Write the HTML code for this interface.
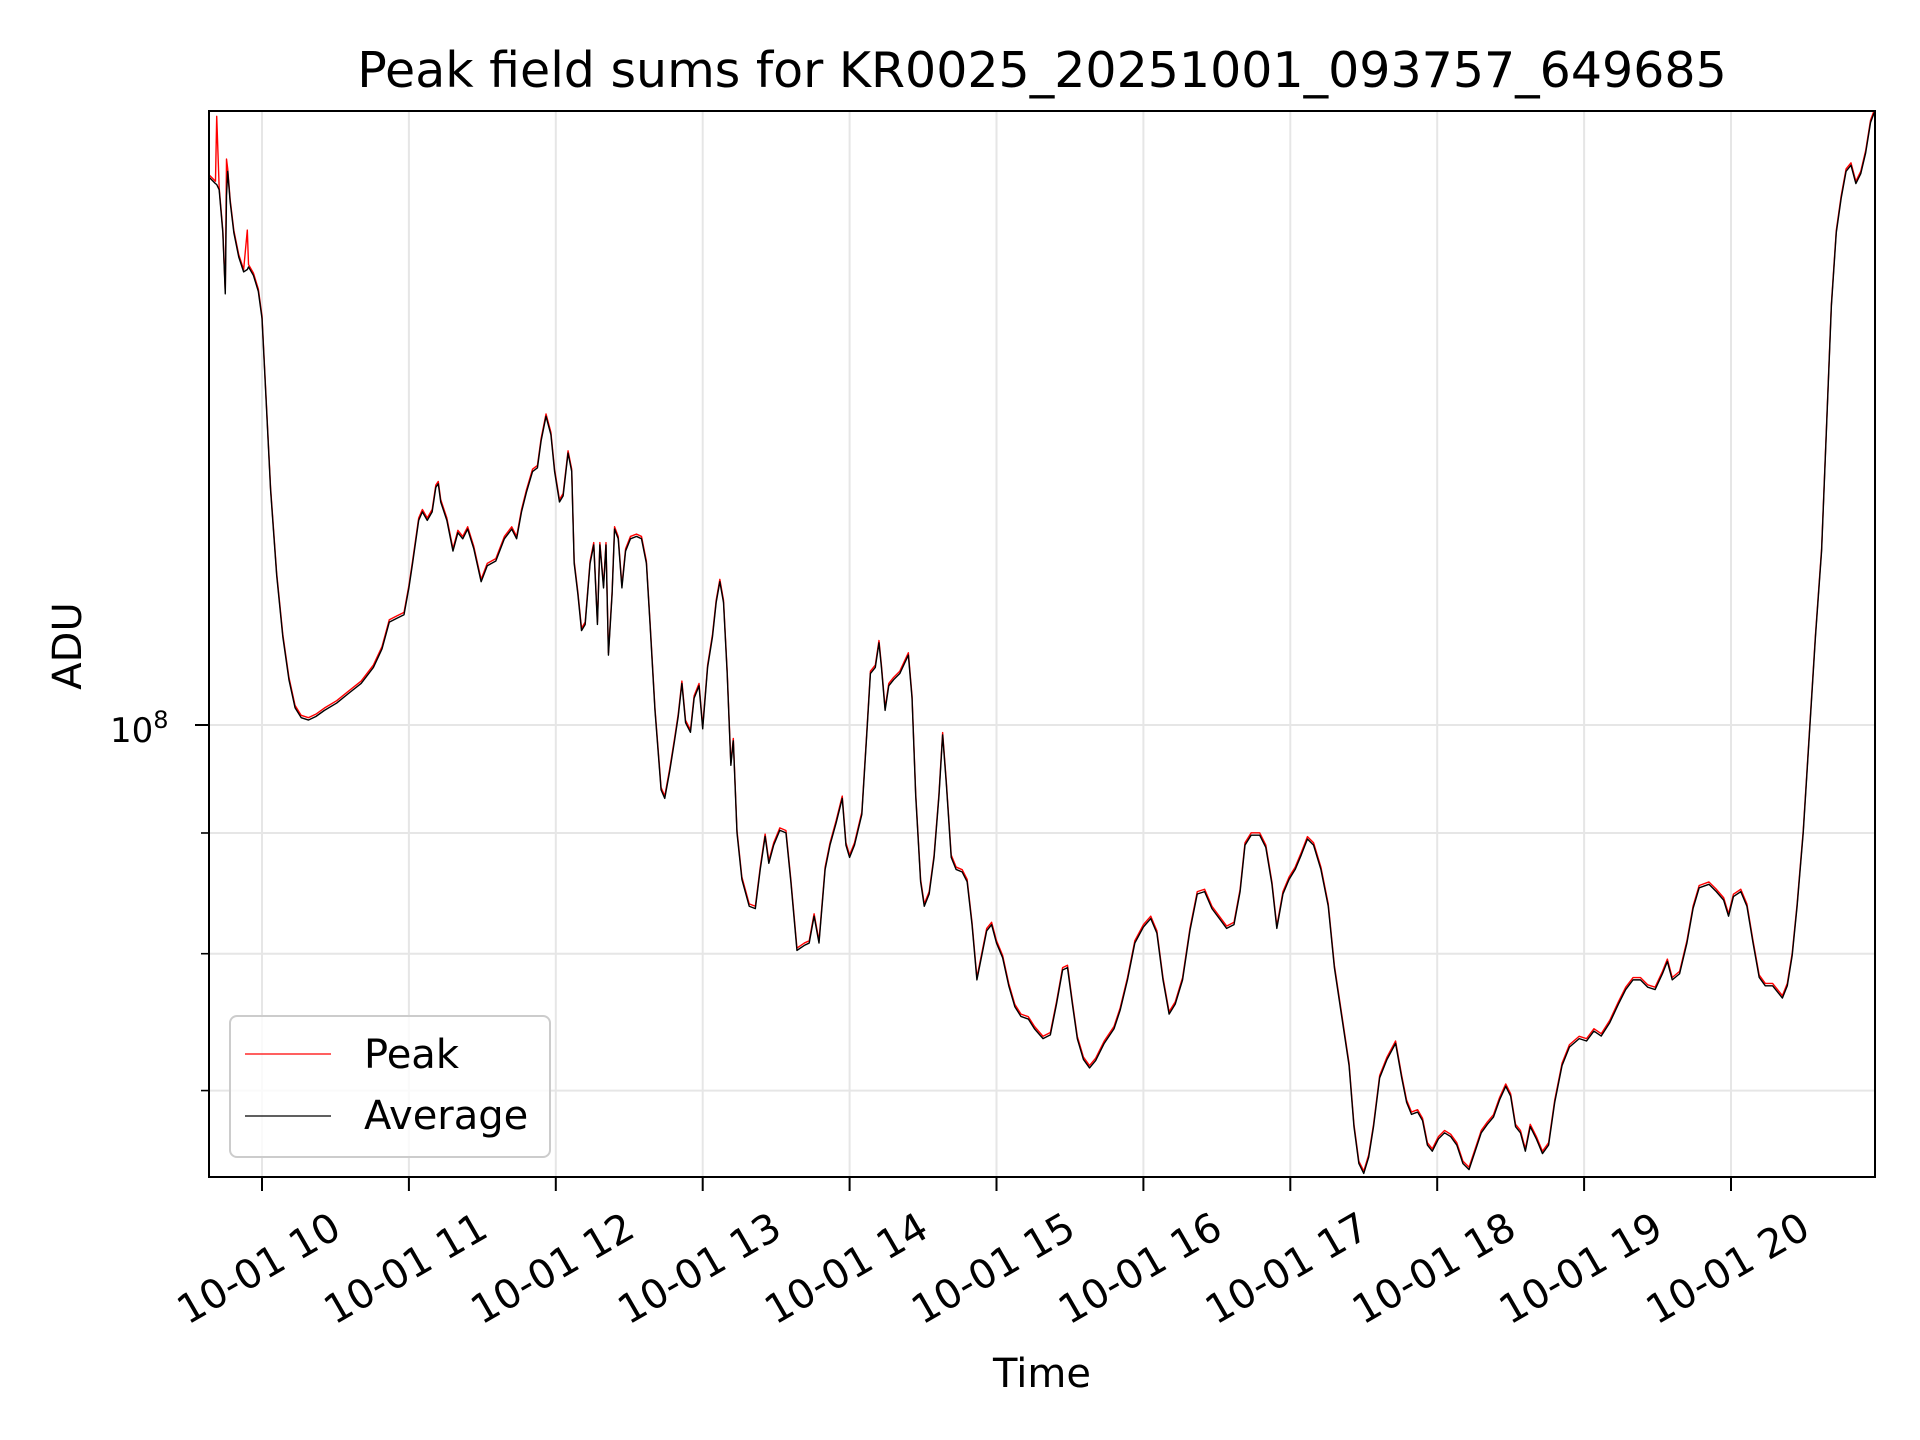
<!DOCTYPE html>
<html><head><meta charset="utf-8"><style>
html,body{margin:0;padding:0;background:#fff;}
svg{display:block;font-family:"DejaVu Sans","Liberation Sans",sans-serif;}
</style></head><body>
<svg id="chart" width="1920" height="1440" viewBox="0 0 1920 1440" xmlns="http://www.w3.org/2000/svg">
<rect width="1920" height="1440" fill="#fff"/>
<g id="grid"></g>
<g id="series"></g>
<rect x="209" y="111" width="1666" height="1066" fill="none" stroke="#000" stroke-width="2"/>
<g id="ticks"></g>
<text x="1042" y="87" font-size="49" text-anchor="middle">Peak field sums for KR0025_20251001_093757_649685</text>
<text x="1042" y="1387" font-size="40" text-anchor="middle">Time</text>
<text x="0" y="0" font-size="40" text-anchor="middle" transform="translate(81,646) rotate(-90)">ADU</text>
<g>
<rect x="230" y="1016" width="320" height="141" rx="7" fill="#fff" fill-opacity="0.8" stroke="#cccccc" stroke-width="2"/>
<line x1="245" y1="1054" x2="331" y2="1054" stroke="#ff0000" stroke-width="1.3"/>
<text x="364" y="1068" font-size="40">Peak</text>
<line x1="245" y1="1116" x2="331" y2="1116" stroke="#000" stroke-width="1.3"/>
<text x="364" y="1129" font-size="40">Average</text>
</g>
</svg>
<script>
// time in minutes since midnight (2025-10-01), values as log10(ADU)
const times = [578.5,581,581.5,582.5,584,585,585.5,586,587,588.5,590.5,592.5,594,594.5,596.5,598.5,600,601.5,603.5,606,608.5,611,613.5,616,619,622,625.5,630.5,635.5,640.5,645.5,649,652,655,658,660,661.5,664,665.5,667.5,669.5,671,672,673,675.5,678,680,682,684,686.5,689.5,692,695.5,699,702,704,706,708,710.5,712.5,714,716,718,719.5,721.5,723,725,726.5,727.5,729,730.5,732,734,735.5,737,738,739.5,740.5,741.5,743,744,745.5,747,748.5,750.5,753,755,757,758.5,760.5,763,764.5,766.5,768.5,770,771.5,773,775,776.5,778.5,780,782,784,785.5,787,788.5,790,791.5,792.5,794,796,799,801.5,803.5,805.5,807,809,811.5,814,816,818.5,821.5,823.5,825.5,827.5,830,832,834.5,837,838.5,840,842,845,847,848.5,850.5,852,853,854.5,856,858,860.5,864,865.5,867,869,870.5,872.5,874.5,876.5,878,879.5,881.5,883.5,886,888,890,892,894,896,898,900,902.5,905,907.5,910,913,915.5,919,922,924.5,927,929,931,933,935.5,938,940.5,944,948,950.5,953.5,956.5,960,963,965.5,968,970.5,973,976,979,982,985,988,991,994,997,999.5,1001.5,1004,1007.5,1010,1012.5,1014.5,1017,1019.5,1022,1024.5,1027,1029.5,1032.5,1035.5,1038,1041,1044,1046,1048,1050,1052,1054,1056.5,1059.5,1063,1065.5,1067.5,1069.5,1072,1074,1076,1078,1080.5,1083,1085.5,1088,1090.5,1093,1095.5,1098,1100.5,1103,1105.5,1108,1110,1112,1114,1116,1118,1120.5,1123,1125.5,1128,1131,1134,1138,1141,1144,1147,1150.5,1154,1157,1160,1163,1166,1169,1172,1174,1176,1179,1182,1184.5,1187,1191,1194,1197,1199,1201,1204,1206.5,1209,1211.5,1214,1217,1219,1221,1223,1225,1227,1229.5,1232,1234.5,1237,1239,1241,1243,1245,1247,1249,1251,1253,1255,1257,1258.5];
const averageLog = [8.2320,8.2294,8.2290,8.2268,8.2086,8.1827,8.2242,8.2346,8.2216,8.2086,8.1983,8.1920,8.1930,8.1941,8.1905,8.1837,8.1723,8.1412,8.0996,8.0633,8.0374,8.0192,8.0073,8.0031,8.0021,8.0036,8.0062,8.0093,8.0135,8.0176,8.0244,8.0322,8.0436,8.0452,8.0467,8.0581,8.0685,8.0867,8.0903,8.0867,8.0903,8.1007,8.1022,8.0945,8.0867,8.0737,8.0815,8.0789,8.0830,8.0747,8.0607,8.0675,8.0695,8.0789,8.0830,8.0789,8.0903,8.0986,8.1074,8.1090,8.1204,8.1308,8.1230,8.1074,8.0945,8.0971,8.1152,8.1074,8.0685,8.0555,8.0400,8.0426,8.0685,8.0763,8.0426,8.0763,8.0581,8.0763,8.0296,8.0555,8.0830,8.0789,8.0581,8.0737,8.0789,8.0799,8.0789,8.0685,8.0426,8.0062,7.9725,7.9689,7.9803,7.9933,8.0036,8.0176,8.0010,7.9969,8.0114,8.0166,7.9984,8.0244,8.0374,8.0519,8.0607,8.0519,8.0218,7.9829,7.9933,7.9543,7.9346,7.9232,7.9222,7.9388,7.9528,7.9414,7.9491,7.9554,7.9543,7.9336,7.9045,7.9066,7.9076,7.9190,7.9076,7.9388,7.9491,7.9585,7.9689,7.9491,7.9439,7.9491,7.9621,7.9958,8.0218,8.0244,8.0348,8.0244,8.0062,8.0166,8.0192,8.0218,8.0296,8.0114,7.9699,7.9336,7.9232,7.9284,7.9439,7.9699,7.9958,7.9751,7.9439,7.9388,7.9377,7.9336,7.9154,7.8920,7.9024,7.9128,7.9154,7.9076,7.9014,7.8895,7.8806,7.8765,7.8754,7.8713,7.8671,7.8687,7.8817,7.8962,7.8972,7.8817,7.8671,7.8583,7.8547,7.8578,7.8651,7.8713,7.8791,7.8920,7.9076,7.9144,7.9180,7.9118,7.8920,7.8775,7.8817,7.8920,7.9128,7.9284,7.9294,7.9222,7.9180,7.9138,7.9154,7.9294,7.9491,7.9533,7.9533,7.9481,7.9325,7.9138,7.9284,7.9346,7.9388,7.9450,7.9517,7.9491,7.9388,7.9232,7.8972,7.8765,7.8557,7.8298,7.8142,7.8100,7.8168,7.8298,7.8505,7.8583,7.8651,7.8505,7.8401,7.8350,7.8360,7.8324,7.8220,7.8194,7.8246,7.8272,7.8256,7.8220,7.8142,7.8116,7.8194,7.8272,7.8308,7.8339,7.8412,7.8469,7.8427,7.8298,7.8272,7.8194,7.8298,7.8246,7.8184,7.8220,7.8401,7.8557,7.8635,7.8671,7.8661,7.8703,7.8682,7.8739,7.8817,7.8879,7.8920,7.8920,7.8889,7.8879,7.8946,7.8998,7.8920,7.8946,7.9076,7.9222,7.9310,7.9325,7.9294,7.9258,7.9190,7.9273,7.9294,7.9232,7.9076,7.8931,7.8895,7.8895,7.8869,7.8843,7.8895,7.9024,7.9232,7.9543,7.9958,8.0374,8.0737,8.1256,8.1775,8.2086,8.2232,8.2346,8.2372,8.2294,8.2336,8.2424,8.2553,8.2595];
const peakLog = [8.2330,8.2304,8.2579,8.2278,8.2096,8.1837,8.2398,8.2356,8.2226,8.2096,8.1993,8.1930,8.2097,8.1951,8.1915,8.1847,8.1733,8.1422,8.1006,8.0643,8.0384,8.0202,8.0083,8.0041,8.0031,8.0046,8.0072,8.0103,8.0145,8.0186,8.0254,8.0332,8.0446,8.0462,8.0477,8.0591,8.0695,8.0877,8.0913,8.0877,8.0913,8.1017,8.1032,8.0955,8.0877,8.0747,8.0825,8.0799,8.0840,8.0757,8.0617,8.0685,8.0705,8.0799,8.0840,8.0799,8.0913,8.0996,8.1084,8.1100,8.1214,8.1318,8.1240,8.1084,8.0955,8.0981,8.1162,8.1084,8.0695,8.0565,8.0410,8.0436,8.0695,8.0773,8.0436,8.0773,8.0591,8.0773,8.0306,8.0565,8.0840,8.0799,8.0591,8.0747,8.0799,8.0809,8.0799,8.0695,8.0436,8.0072,7.9735,7.9699,7.9813,7.9943,8.0046,8.0186,8.0020,7.9979,8.0124,8.0176,7.9994,8.0254,8.0384,8.0529,8.0617,8.0529,8.0228,7.9839,7.9943,7.9553,7.9356,7.9242,7.9232,7.9398,7.9538,7.9424,7.9501,7.9564,7.9553,7.9346,7.9055,7.9076,7.9086,7.9200,7.9086,7.9398,7.9501,7.9595,7.9699,7.9501,7.9449,7.9501,7.9631,7.9968,8.0228,8.0254,8.0358,8.0254,8.0072,8.0176,8.0202,8.0228,8.0306,8.0124,7.9709,7.9346,7.9242,7.9294,7.9449,7.9709,7.9968,7.9761,7.9449,7.9398,7.9387,7.9346,7.9164,7.8930,7.9034,7.9138,7.9164,7.9086,7.9024,7.8905,7.8816,7.8775,7.8764,7.8723,7.8681,7.8697,7.8827,7.8972,7.8982,7.8827,7.8681,7.8593,7.8557,7.8588,7.8661,7.8723,7.8801,7.8930,7.9086,7.9154,7.9190,7.9128,7.8930,7.8785,7.8827,7.8930,7.9138,7.9294,7.9304,7.9232,7.9190,7.9148,7.9164,7.9304,7.9501,7.9543,7.9543,7.9491,7.9335,7.9148,7.9294,7.9356,7.9398,7.9460,7.9527,7.9501,7.9398,7.9242,7.8982,7.8775,7.8567,7.8308,7.8152,7.8110,7.8178,7.8308,7.8515,7.8593,7.8661,7.8515,7.8411,7.8360,7.8370,7.8334,7.8230,7.8204,7.8256,7.8282,7.8266,7.8230,7.8152,7.8126,7.8204,7.8282,7.8318,7.8349,7.8422,7.8479,7.8437,7.8308,7.8282,7.8204,7.8308,7.8256,7.8194,7.8230,7.8411,7.8567,7.8645,7.8681,7.8671,7.8713,7.8692,7.8749,7.8827,7.8889,7.8930,7.8930,7.8899,7.8889,7.8956,7.9008,7.8930,7.8956,7.9086,7.9232,7.9320,7.9335,7.9304,7.9268,7.9200,7.9283,7.9304,7.9242,7.9086,7.8941,7.8905,7.8905,7.8879,7.8853,7.8905,7.9034,7.9242,7.9553,7.9968,8.0384,8.0747,8.1266,8.1785,8.2096,8.2242,8.2356,8.2382,8.2304,8.2346,8.2434,8.2563,8.2605];
const xTickHours = [10,11,12,13,14,15,16,17,18,19,20];
const xTickLabels = ["10-01 10","10-01 11","10-01 12","10-01 13","10-01 14","10-01 15","10-01 16","10-01 17","10-01 18","10-01 19","10-01 20"];
const yMinorValues = [9e7,8e7,7e7];
const yMajorValue = 1e8;

const NS = "http://www.w3.org/2000/svg";
const PL = 209, PR = 1875, PT = 111, PB = 1177;
function xScale(minutes){ return 262 + (minutes - 600) / 60 * 146.9; }
function yScale(logv){ return 725 - (logv - 8) * 2360; }
function mk(tag, attrs, parent){ const e = document.createElementNS(NS, tag); for (const k in attrs) e.setAttribute(k, attrs[k]); parent.appendChild(e); return e; }

const grid = document.getElementById('grid');
const ticks = document.getElementById('ticks');
const series = document.getElementById('series');

xTickHours.forEach((h, i) => {
  const x = xScale(h * 60);
  const gl = mk('line', {x1:x, y1:PT, x2:x, y2:PB, stroke:'#e6e6e6', 'stroke-width':2}, grid);
  
  
  const tk = mk('line', {x1:x, y1:PB, x2:x, y2:PB + 14, stroke:'#000', 'stroke-width':2}, ticks);
  
  
  const t = mk('text', {x:0, y:0, 'font-size':40, 'text-anchor':'middle', 'dominant-baseline':'central', transform:`translate(${x - 3},1269) rotate(-30)`}, ticks);
  t.textContent = xTickLabels[i];
  
  
});

const yM = yScale(Math.log10(yMajorValue));
const gm = mk('line', {x1:PL, y1:yM, x2:PR, y2:yM, stroke:'#e6e6e6', 'stroke-width':2}, grid);


const tm = mk('line', {x1:PL - 14, y1:yM, x2:PL, y2:yM, stroke:'#000', 'stroke-width':2}, ticks);


const yl = mk('text', {x:110, y:yM + 17, 'font-size':34}, ticks);


yl.textContent = '10';
const sup = mk('tspan', {'font-size':24, dy:-14}, yl);
sup.textContent = Math.round(Math.log10(yMajorValue)).toString();

yMinorValues.forEach(v => {
  const y = yScale(Math.log10(v));
  const g = mk('line', {x1:PL, y1:y, x2:PR, y2:y, stroke:'#e6e6e6', 'stroke-width':2}, grid);
  
  
  const t = mk('line', {x1:PL - 8, y1:y, x2:PL, y2:y, stroke:'#000', 'stroke-width':1.6}, ticks);
  
  
});

const clip = mk('clipPath', {id:'plotclip'}, document.getElementById('chart'));
mk('rect', {x:PL, y:PT, width:PR - PL, height:PB - PT}, clip);
series.setAttribute('clip-path', 'url(#plotclip)');

function pathFor(vals){ return times.map((t, i) => (i ? 'L' : 'M') + xScale(t).toFixed(2) + ',' + yScale(vals[i]).toFixed(2)).join(''); }
const pk = mk('path', {d:pathFor(peakLog), fill:'none', stroke:'#ff0000', 'stroke-width':1.4, 'stroke-linejoin':'round'}, series);


const av = mk('path', {d:pathFor(averageLog), fill:'none', stroke:'#000', 'stroke-width':1.4, 'stroke-linejoin':'round'}, series);


</script>
</body></html>
